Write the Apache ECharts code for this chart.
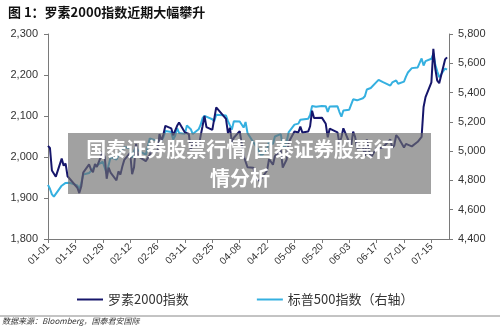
<!DOCTYPE html>
<html><head><meta charset="utf-8">
<script src="https://cdn.jsdelivr.net/npm/echarts@6/dist/echarts.min.js"></script>
<style>html,body{margin:0;padding:0;background:#fff}#c{width:500px;height:328px}</style>
</head><body><div id="c"></div>
<script>
var tradeDates = ['01-01','01-02','01-03','01-04','01-05','01-08','01-09','01-10','01-11','01-12','01-16','01-17','01-18','01-19','01-22','01-23','01-24','01-25','01-26','01-29','01-30','01-31',
'02-01','02-02','02-05','02-06','02-07','02-08','02-09','02-12','02-13','02-14','02-15','02-16','02-20','02-21','02-22','02-23','02-26','02-27','02-28','02-29',
'03-01','03-04','03-05','03-06','03-07','03-08','03-11','03-12','03-13','03-14','03-15','03-18','03-19','03-20','03-21','03-22','03-25','03-26','03-27','03-28',
'04-01','04-02','04-03','04-04','04-05','04-08','04-09','04-10','04-11','04-12','04-15','04-16','04-17','04-18','04-19','04-22','04-23','04-24','04-25','04-26','04-29','04-30',
'05-01','05-02','05-03','05-06','05-07','05-08','05-09','05-10','05-13','05-14','05-15','05-16','05-17','05-20','05-21','05-22','05-23','05-24','05-28','05-29','05-30','05-31',
'06-03','06-04','06-05','06-06','06-07','06-10','06-11','06-12','06-13','06-14','06-17','06-18','06-20','06-21','06-24','06-25','06-26','06-27','06-28',
'07-01','07-02','07-03','07-05','07-08','07-09','07-10','07-11','07-12','07-15','07-16','07-17','07-18','07-19','07-22','07-23'];

var russell2000 = [2027,2022,1967,1963,1952,1996,1979,1984,1953,1950,1925,1912,1928,1962,1982,1969,1963,1983,1976,2013,2000,1947,
1974,1962,1943,1965,1957,1977,1993,2010,1958,1975,2032,2002,1990,1991,2005,2016,2013,2056,2039,2055,
2076,2070,2053,2055,2076,2084,2060,2064,2056,2015,2039,2025,2051,2075,2100,2073,2066,2070,2121,2124,
2093,2058,2071,2036,2047,2063,2062,2003,2005,1975,1974,1949,1948,1942,1947,1967,1995,1995,1981,2002,2017,1974,
1976,1994,2036,2062,2061,2060,2074,2060,2062,2075,2113,2095,2095,2096,2094,2081,2048,2069,2060,2033,2048,2070,
2036,2029,2062,2049,2022,2025,2003,2043,2018,1998,2022,2026,2022,2022,2043,2022,2028,2053,2048,
2023,2032,2033,2026,2037,2038,2049,2122,2146,2182,2264,2215,2186,2180,2238,2243];

var sp500 = [4770,4743,4705,4689,4697,4764,4757,4783,4780,4784,4766,4739,4781,4840,4851,4865,4869,4894,4891,4928,4925,4846,
4906,4959,4943,4954,4995,4998,5027,5022,4954,5001,5030,5006,4976,4982,5087,5089,5070,5078,5070,5096,
5137,5131,5079,5105,5158,5124,5118,5175,5165,5150,5117,5149,5179,5225,5241,5234,5218,5204,5248,5254,
5243,5205,5211,5147,5204,5202,5209,5161,5199,5123,5061,5051,5022,5011,4967,5010,5070,5072,5048,5100,5116,5036,
5018,5064,5128,5181,5187,5188,5214,5223,5221,5247,5308,5297,5303,5308,5321,5307,5268,5305,5306,5267,5236,5278,
5283,5291,5354,5353,5347,5361,5375,5421,5434,5431,5473,5487,5473,5465,5448,5469,5478,5483,5460,
5475,5509,5537,5567,5572,5577,5633,5585,5615,5631,5667,5589,5545,5505,5564,5556];

var xTickLabels = ['01-01','01-15','01-29','02-12','02-26','03-11','03-25','04-08','04-22','05-06','05-20','06-03','06-17','07-01','07-15'];
var leftTicks = [1800,1900,2000,2100,2200,2300];
var rightTicks = [4400,4600,4800,5000,5200,5400,5600,5800];
var seriesNames = ['罗素2000指数','标普500指数（右轴）'];

// calendar-day categories (2024-01-01 .. 2024-07-24)
var cats = [];
for (var d = new Date(Date.UTC(2024,0,1)); d <= new Date(Date.UTC(2024,6,24)); d = new Date(d.getTime()+86400000)) {
  var m = d.getUTCMonth()+1, dd = d.getUTCDate();
  cats.push((m<10?'0':'')+m+'-'+(dd<10?'0':'')+dd);
}
function mapSeries(vals){
  var idx = {}; tradeDates.forEach(function(t,i){ idx[t]=vals[i]; });
  return cats.map(function(c){ return idx.hasOwnProperty(c) ? idx[c] : null; });
}
function comma(v){ return String(v).replace(/\B(?=(\d{3})+(?!\d))/g, ','); }

var chart = echarts.init(document.getElementById('c'));
var axisCol = '#7a7a7a';
var lab = {color:'#333', fontFamily:'Liberation Sans, Arial', fontSize:11};
chart.setOption({
  animation:false,
  title:{text:'图 1：罗素2000指数近期大幅攀升', left:3, top:1,
    textStyle:{fontSize:13, fontWeight:'bold', color:'#111', fontFamily:'"Noto Sans CJK SC"'}},
  legend:{bottom:17, left:72, itemGap:68, itemWidth:26, itemHeight:2, icon:'rect',
    textStyle:{fontSize:13, color:'#333', fontFamily:'"Noto Sans CJK SC"'},
    data:seriesNames},
  grid:{left:48, right:51, top:34, bottom:89},
  xAxis:{type:'category', data:cats, boundaryGap:false,
    axisLine:{lineStyle:{color:axisCol}},
    axisTick:{interval:13, length:4, lineStyle:{color:axisCol}},
    axisLabel:{interval:13, rotate:45, margin:6, fontSize:10, color:'#333', fontFamily:'Liberation Sans, Arial',
      formatter:function(v){ return xTickLabels.indexOf(v)>=0 ? v : ''; }}},
  yAxis:[
    {type:'value', min:leftTicks[0], max:leftTicks[leftTicks.length-1], interval:100,
     axisLine:{show:true, lineStyle:{color:axisCol}}, axisTick:{show:true, length:4, lineStyle:{color:axisCol}},
     splitLine:{show:false}, axisLabel:Object.assign({margin:10, formatter:comma}, lab)},
    {type:'value', min:rightTicks[0], max:rightTicks[rightTicks.length-1], interval:200,
     axisLine:{show:true, lineStyle:{color:axisCol}}, axisTick:{show:true, length:4, lineStyle:{color:axisCol}},
     splitLine:{show:false}, axisLabel:Object.assign({margin:9, formatter:comma}, lab)}
  ],
  series:[
    {name:seriesNames[0], type:'line', data:mapSeries(russell2000), yAxisIndex:0, connectNulls:true,
     showSymbol:false, lineStyle:{color:'#16166b', width:2}, itemStyle:{color:'#16166b'}, z:3},
    {name:seriesNames[1], type:'line', data:mapSeries(sp500), yAxisIndex:1, connectNulls:true,
     showSymbol:false, lineStyle:{color:'#35b0e0', width:2}, itemStyle:{color:'#35b0e0'}, z:2}
  ],
  graphic:[
    {type:'line', shape:{x1:0,y1:316,x2:500,y2:316}, style:{stroke:'#888', lineWidth:1}},
    {type:'text', left:2, top:317, style:{text:'数据来源：Bloomberg，国泰君安国际', fill:'#333',
      font:'italic 8px "Noto Sans CJK SC"'}},
    {type:'rect', shape:{x:68,y:133,width:363,height:61}, style:{fill:'rgba(110,110,110,0.65)'}, z:100},
    {type:'text', x:240, y:135, z:101, style:{text:'国泰证券股票行情/国泰证券股票行\n情分析', fill:'#fff',
      font:'bold 20px "Noto Sans CJK SC"', textAlign:'center', textVerticalAlign:'top', lineHeight:29}}
  ]
});
</script></body></html>
